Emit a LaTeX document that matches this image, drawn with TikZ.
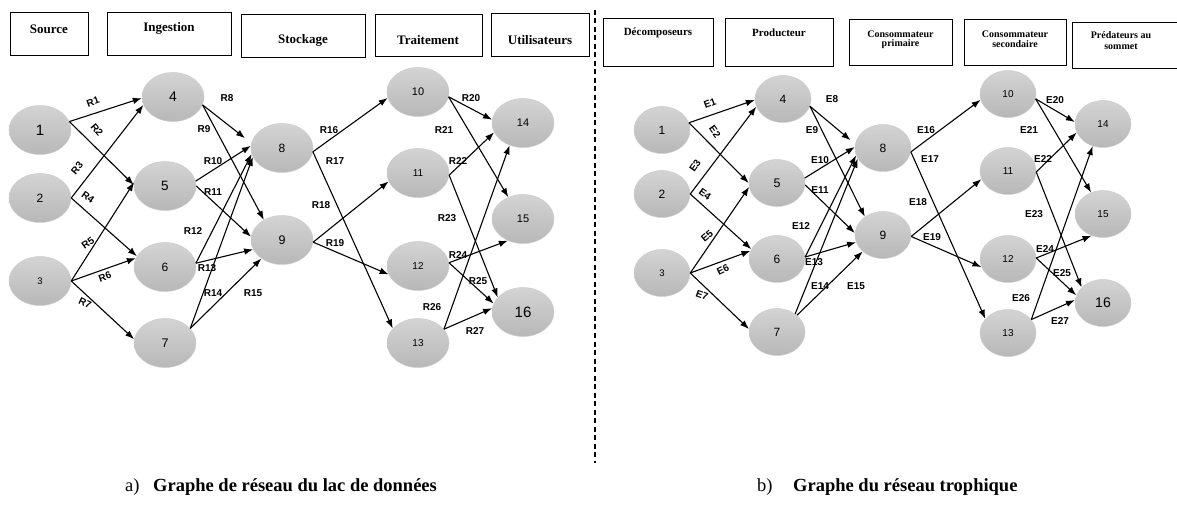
\documentclass[tikz,border=0pt]{standalone}
\usepackage{fontspec}
\setmainfont{Liberation Serif}
\setsansfont{Liberation Sans}
\usetikzlibrary{shapes.geometric,arrows.meta}

\tikzset{
  stagebox/.style={draw=black, line width=0.9pt, inner sep=0pt},
  stagetxt/.style={font=\bfseries\fontsize{#1}{#1}\selectfont, inner sep=0pt, align=center},
  ndl/.style={ellipse, minimum width=62, minimum height=49, inner sep=0pt,
    top color=black!17, bottom color=black!28, draw=black!20, line width=0.5pt,
    font=\sffamily\fontsize{#1}{#1}\selectfont},
  ndr/.style={ellipse, minimum width=56, minimum height=47, inner sep=0pt,
    top color=black!17, bottom color=black!28, draw=black!20, line width=0.5pt,
    font=\sffamily\fontsize{#1}{#1}\selectfont},
  arr/.style={line width=1.1pt, -{Latex[length=9pt,width=6.5pt]}},
  elab/.style={font=\sffamily\bfseries\fontsize{10}{10}\selectfont, inner sep=0pt},
  sep/.style={line width=1.1pt, dash pattern=on 5pt off 3.5pt},
  capnum/.style={font=\fontsize{18.5}{20}\selectfont, inner sep=0pt, anchor=base west},
  captxt/.style={font=\bfseries\fontsize{18.5}{20}\selectfont, inner sep=0pt, anchor=base west}
}

\begin{document}
\begin{tikzpicture}[x=1pt,y=-1pt]
\useasboundingbox (0,0) rectangle (1177,510);

% ---------- a) data lake network ----------
% stage headers
\node[stagebox, minimum width=78, minimum height=43] (hSrc) at (49,33.5) {};
\node[stagetxt=13] (tSrc) at (49,29) {Source};
\node[stagebox, minimum width=124, minimum height=43] (hIng) at (169,33.5) {};
\node[stagetxt=13] (tIng) at (169,28) {Ingestion};
\node[stagebox, minimum width=124, minimum height=43] (hSto) at (303,35.5) {};
\node[stagetxt=13] (tSto) at (303,40) {Stockage};
\node[stagebox, minimum width=107, minimum height=42] (hTra) at (428.5,35) {};
\node[stagetxt=13] (tTra) at (428,40) {Traitement};
\node[stagebox, minimum width=98, minimum height=43] (hUti) at (540,34.5) {};
\node[stagetxt=13] (tUti) at (540,40) {Utilisateurs};

% nodes
\node[ndl=15]   (L1)  at (40,130)  {1};
\node[ndl=12]   (L2)  at (40,198)  {2};
\node[ndl=9.5]  (L3)  at (40,281)  {3};
\node[ndl=14]   (L4)  at (173,97)  {4};
\node[ndl=13.5] (L5)  at (165,186) {5};
\node[ndl=12]   (L6)  at (165,267) {6};
\node[ndl=12.5] (L7)  at (165,343) {7};
\node[ndl=12]   (L8)  at (282,148) {8};
\node[ndl=12.5] (L9)  at (282,240) {9};
\node[ndl=11]   (L10) at (418,92)  {10};
\node[ndl=10]   (L11) at (418,173) {11};
\node[ndl=10]   (L12) at (418,266) {12};
\node[ndl=10]   (L13) at (418,343) {13};
\node[ndl=11]   (L14) at (523,123) {14};
\node[ndl=11]   (L15) at (523,219) {15};
\node[ndl=15]   (L16) at (523,312) {16};

% links
\draw[arr] (L1.16) -- (L4.182);
\draw[arr] (L1.16) -- (L5.178);
\draw[arr] (L2.east) -- (L4.195);
\draw[arr] (L2.east) -- (L6.159);
\draw[arr] (L3.east) -- (L5.173);
\draw[arr] (L3.east) -- (L6.163);
\draw[arr] (L3.east) -- (L7.173);
\draw[arr, shorten >=8pt] (L4.-15) -- (L8.171);
\draw[arr] (L4.-15) -- (L9.132);
\draw[arr] (L5.9) -- (L8.176);
\draw[arr] (L5.0) -- (L9.174);
\draw[arr] (L6.7) -- (L8.191);
\draw[arr] (L6.7) -- (L9.198);
\draw[arr] (L7.30) -- (L8.197);
\draw[arr] (L7.30) -- (L9.222);
\draw[arr] (L8.-7) -- (L10.191);
\draw[arr] (L8.-7) -- (L13.150);
\draw[arr] (L9.-4) -- (L11.196);
\draw[arr] (L9.-4) -- (L12.196);
\draw[arr] (L10.-9) -- (L14.174);
\draw[arr] (L10.-9) -- (L15.124);
\draw[arr] (L11.-4) -- (L14.198);
\draw[arr] (L11.-4) -- (L16.150);
\draw[arr] (L12.6) -- (L15.235);
\draw[arr] (L12.6) -- (L16.164);
\draw[arr] (L13.28) -- (L14.239);
\draw[arr] (L13.28) -- (L16.173);

% link labels
\node[elab, rotate=20]  (lR1)  at (93,102)  {R1};
\node[elab, rotate=-50] (lR2)  at (97,130)  {R2};
\node[elab, rotate=50]  (lR3)  at (77,168)  {R3};
\node[elab, rotate=-35] (lR4)  at (88,197)  {R4};
\node[elab, rotate=35]  (lR5)  at (88,243)  {R5};
\node[elab, rotate=20]  (lR6)  at (105,277) {R6};
\node[elab, rotate=-25] (lR7)  at (85,303)  {R7};
\node[elab] (lR8)  at (227,98)  {R8};
\node[elab] (lR9)  at (204,129) {R9};
\node[elab] (lR10) at (213,161) {R10};
\node[elab] (lR11) at (213,192) {R11};
\node[elab] (lR12) at (193,231) {R12};
\node[elab] (lR13) at (207,268) {R13};
\node[elab] (lR14) at (213,293) {R14};
\node[elab] (lR15) at (253,293) {R15};
\node[elab] (lR16) at (329,130) {R16};
\node[elab] (lR17) at (335,161) {R17};
\node[elab] (lR18) at (321,205) {R18};
\node[elab] (lR19) at (335,243) {R19};
\node[elab] (lR20) at (471,98)  {R20};
\node[elab] (lR21) at (444,130) {R21};
\node[elab] (lR22) at (458,161) {R22};
\node[elab] (lR23) at (447,218) {R23};
\node[elab] (lR24) at (458,255) {R24};
\node[elab] (lR25) at (478,281) {R25};
\node[elab] (lR26) at (432,307) {R26};
\node[elab] (lR27) at (475,331) {R27};

% separator between the two graphs
\coordinate (dTop) at (595,10);
\coordinate (dBot) at (595,463);
\draw[sep] (dTop) -- (dBot);

% ---------- b) food web ----------
\node[stagebox, minimum width=110, minimum height=48] (hDec) at (658,42) {};
\node[stagetxt=11] (tDec) at (658,33) {Décomposeurs};
\node[stagebox, minimum width=108, minimum height=48] (hPro) at (779,42) {};
\node[stagetxt=11] (tPro) at (779,33) {Producteur};
\node[stagebox, minimum width=103, minimum height=46] (hCp) at (900.5,42) {};
\node[stagetxt=10] (tCp) at (900.5,40) {Consommateur\\[-0.5pt]primaire};
\node[stagebox, minimum width=102, minimum height=46] (hCs) at (1015,42) {};
\node[stagetxt=10] (tCs) at (1015,39) {Consommateur\\[-0.5pt]secondaire};
\node[stagebox, minimum width=108, minimum height=46] (hPs) at (1126,45) {};
\node[stagetxt=10] (tPs) at (1121,41) {Prédateurs au\\[1pt]sommet};

\node[ndr=12]   (P1)  at (662,130)  {1};
\node[ndr=12]   (P2)  at (662,194)  {2};
\node[ndr=9.5]  (P3)  at (662,273)  {3};
\node[ndr=12]   (P4)  at (783,99)   {4};
\node[ndr=12.5] (P5)  at (777,183)  {5};
\node[ndr=12]   (P6)  at (777,259)  {6};
\node[ndr=12]   (P7)  at (777,332)  {7};
\node[ndr=12]   (P8)  at (883,148)  {8};
\node[ndr=12]   (P9)  at (883,235)  {9};
\node[ndr=10]   (P10) at (1008,94)  {10};
\node[ndr=10]   (P11) at (1008,171) {11};
\node[ndr=10]   (P12) at (1008,259) {12};
\node[ndr=10]   (P13) at (1008,333) {13};
\node[ndr=10]   (P14) at (1103,124) {14};
\node[ndr=10]   (P15) at (1103,214) {15};
\node[ndr=14]   (P16) at (1103,303) {16};

\draw[arr] (P1.15) -- (P4.182);
\draw[arr] (P1.15) -- (P5.180);
\draw[arr] (P2.east) -- (P4.196);
\draw[arr] (P2.east) -- (P6.159);
\draw[arr] (P3.east) -- (P5.188);
\draw[arr] (P3.east) -- (P6.163);
\draw[arr] (P3.east) -- (P7.174);
\draw[arr, shorten >=6pt] (P4.-15) -- (P8.172);
\draw[arr] (P4.-15) -- (P9.135);
\draw[arr] (P5.10) -- (P8.178);
\draw[arr] (P5.-4) -- (P9.176);
\draw[arr] (P6.4) -- (P8.195);
\draw[arr] (P6.4) -- (P9.195);
\draw[arr] (P7.45) -- (P8.203);
\draw[arr] (P7.40) -- (P9.219);
\draw[arr] (P8.-8) -- (P10.192);
\draw[arr] (P8.-8) -- (P13.148);
\draw[arr] (P9.-3) -- (P11.197);
\draw[arr] (P9.-3) -- (P12.197);
\draw[arr] (P10.-10) -- (P14.176);
\draw[arr] (P10.-10) -- (P15.119);
\draw[arr] (P11.-2) -- (P14.198);
\draw[arr] (P11.-2) -- (P16.144);
\draw[arr] (P12.2) -- (P15.242);
\draw[arr] (P12.2) -- (P16.164);
\draw[arr] (P13.30) -- (P14.245);
\draw[arr] (P13.30) -- (P16.174);

\node[elab, rotate=20]  (lE1)  at (710,103) {E1};
\node[elab, rotate=-55] (lE2)  at (715,132) {E2};
\node[elab, rotate=55]  (lE3)  at (695,166) {E3};
\node[elab, rotate=-35] (lE4)  at (705,194) {E4};
\node[elab, rotate=40]  (lE5)  at (707,236) {E5};
\node[elab, rotate=25]  (lE6)  at (723,270) {E6};
\node[elab, rotate=-20] (lE7)  at (702,295) {E7};
\node[elab] (lE8)  at (832,99)  {E8};
\node[elab] (lE9)  at (812,130) {E9};
\node[elab] (lE10) at (820,160) {E10};
\node[elab] (lE11) at (820,190) {E11};
\node[elab] (lE12) at (801,226) {E12};
\node[elab] (lE13) at (814,262) {E13};
\node[elab] (lE14) at (820,286) {E14};
\node[elab] (lE15) at (856,286) {E15};
\node[elab] (lE16) at (926,130) {E16};
\node[elab] (lE17) at (930,159) {E17};
\node[elab] (lE18) at (918,202) {E18};
\node[elab] (lE19) at (932,237) {E19};
\node[elab] (lE20) at (1055,100) {E20};
\node[elab] (lE21) at (1029,130) {E21};
\node[elab] (lE22) at (1043,159) {E22};
\node[elab] (lE23) at (1034,214) {E23};
\node[elab] (lE24) at (1045,249) {E24};
\node[elab] (lE25) at (1062,273) {E25};
\node[elab] (lE26) at (1021,298) {E26};
\node[elab] (lE27) at (1060,321) {E27};

% captions
\node[capnum] (ca) at (125,491) {a)};
\node[captxt] (cat) at (153,491) {Graphe de réseau du lac de données};
\node[capnum] (cb) at (757,491) {b)};
\node[captxt] (cbt) at (793,491) {Graphe du réseau trophique};
\end{tikzpicture}
\end{document}
